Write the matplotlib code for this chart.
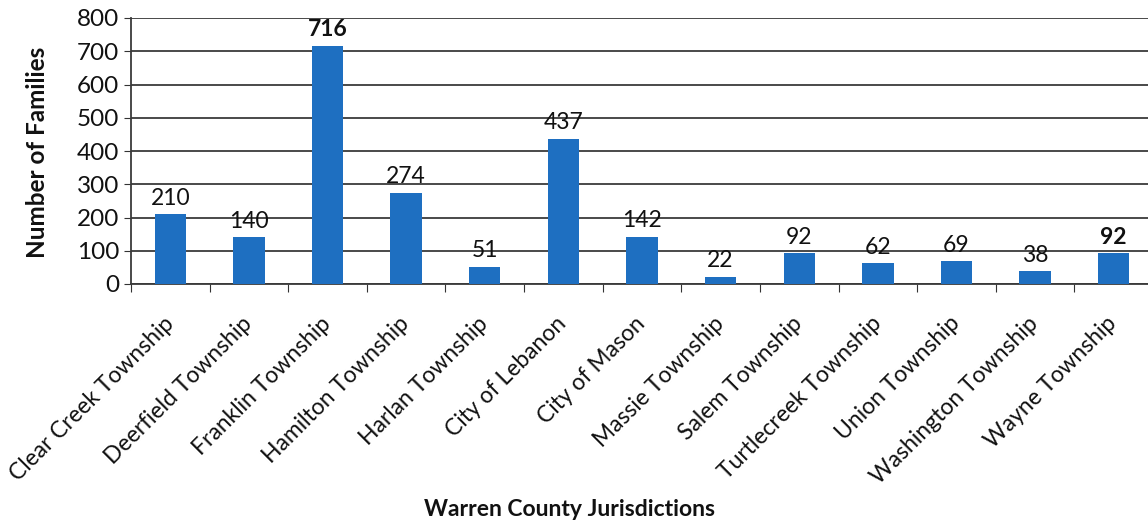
import matplotlib
matplotlib.use("Agg")
import matplotlib.pyplot as plt
import numpy as np

jurisdictions = [
    "Clear Creek Township", "Deerfield Township", "Franklin Township",
    "Hamilton Township", "Harlan Township", "City of Lebanon", "City of Mason",
    "Massie Township", "Salem Township", "Turtlecreek Township",
    "Union Township", "Washington Township", "Wayne Township",
]
families = [210, 140, 716, 274, 51, 437, 142, 22, 92, 62, 69, 38, 92]
bold_labels = {2, 12}
y_ticks = [0, 100, 200, 300, 400, 500, 600, 700, 800]

plt.rcParams["font.family"] = ["Lato", "DejaVu Sans"]

W, H = 1148, 525
fig = plt.figure(figsize=(W / 100, H / 100), dpi=100)
left, right, top, bottom = 131, 1153, 18, 284
ax = fig.add_axes([left / W, 1 - bottom / H, (right - left) / W, (bottom - top) / H])

x = np.arange(len(families))
bar_color = "#1e6fc1"
ax.bar(x, families, width=0.4, color=bar_color, zorder=3)

for i, (xi, v) in enumerate(zip(x, families)):
    ax.annotate(str(v), (xi, v), xytext=(0, 4), textcoords="offset points",
                ha="center", va="bottom", fontsize=16.5,
                fontweight="bold" if i in bold_labels else "normal",
                color="#111111", zorder=4)

ax.set_xlim(-0.5, len(families) - 0.5)
ax.set_ylim(0, 800)
ax.set_yticks(y_ticks)
ax.tick_params(axis="y", labelsize=17.5, length=5, direction="out",
               colors="#333333", labelcolor="#111111")
ax.yaxis.grid(True, color="#3a3a3a", linewidth=1.3, zorder=0)
ax.set_axisbelow(True)

# category boundary ticks on the x axis
ax.set_xticks(np.arange(len(families) + 1) - 0.5, minor=False)
ax.set_xticklabels([])
ax.set_xticks(x, minor=True)
ax.set_xticklabels(jurisdictions, minor=True, rotation=45, ha="right",
                   va="center", rotation_mode="anchor", fontsize=16.5,
                   color="#111111")
ax.tick_params(axis="x", which="minor", length=0, pad=26)
ax.tick_params(axis="x", which="major", length=6, direction="out", color="#333333")

for side in ("top", "right"):
    ax.spines[side].set_visible(False)
for side in ("left", "bottom"):
    ax.spines[side].set_color("#3a3a3a")
    ax.spines[side].set_linewidth(1.3)

fig.text(38 / W, 1 - 152 / H, "Number of Families", rotation=90, ha="center",
         va="center", fontsize=17.5, fontweight="bold", color="#111111")
fig.text(570 / W, 1 - 510 / H, "Warren County Jurisdictions", ha="center",
         va="center", fontsize=16.5, fontweight="bold", color="#111111")

fig.savefig("out.png", dpi=100)
